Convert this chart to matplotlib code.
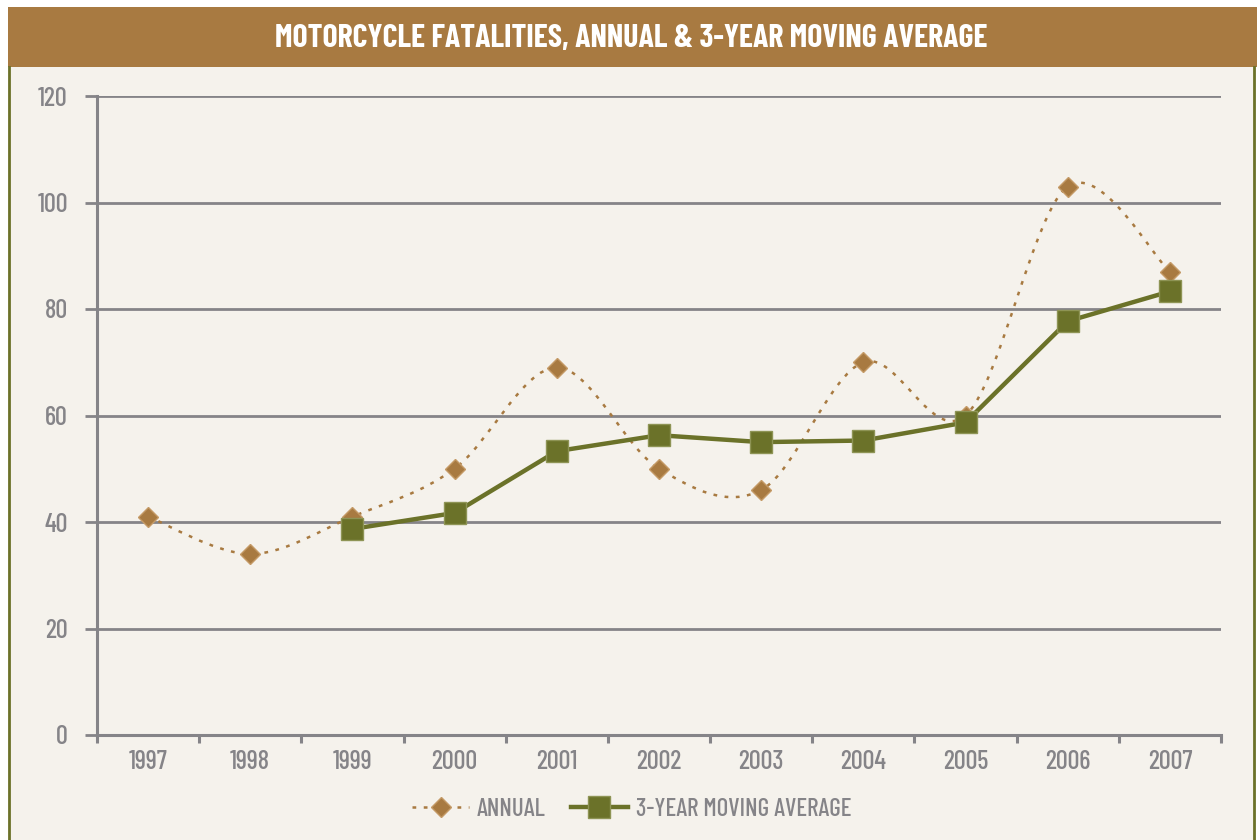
import numpy as np
import matplotlib.pyplot as plt
from matplotlib.path import Path
from matplotlib.patches import PathPatch, Rectangle
from matplotlib.lines import Line2D

years = ['1997', '1998', '1999', '2000', '2001', '2002', '2003', '2004', '2005', '2006', '2007']
annual = [41, 34, 41, 50, 69, 50, 46, 70, 60, 103, 87]
ma_years = ['1999', '2000', '2001', '2002', '2003', '2004', '2005', '2006', '2007']
moving_avg = [38.7, 41.7, 53.3, 56.3, 55.0, 55.3, 58.7, 77.7, 83.3]
yticks = [0, 20, 40, 60, 80, 100, 120]

BROWN = '#A87A41'
GREEN = '#6B7229'
GRAY = '#858488'
PANEL = '#F5F2EC'

plt.rcParams['font.family'] = ['Barlow Condensed', 'Liberation Sans Narrow', 'DejaVu Sans']
plt.rcParams['font.weight'] = 'medium'

W, H = 1257, 840
fig = plt.figure(figsize=(W / 100, H / 100), dpi=100, facecolor='white')

# panel background, title band and side borders
fig.patches.append(Rectangle((8 / W, 0), 1248 / W, 1 - 67 / H, transform=fig.transFigure,
                             facecolor=PANEL, edgecolor='none', zorder=-2))
fig.patches.append(Rectangle((8 / W, 1 - 67 / H), 1 - 8 / W, 60 / H, transform=fig.transFigure,
                             facecolor=BROWN, edgecolor='none', zorder=-2))
fig.lines.append(Line2D([9 / W, 9 / W], [0, 1 - 67 / H], transform=fig.transFigure,
                        color=GREEN, lw=2, zorder=-1))
fig.lines.append(Line2D([1254 / W, 1254 / W], [0, 1 - 67 / H], transform=fig.transFigure,
                        color=GREEN, lw=2, zorder=-1))
fig.text(0.5 + 3 / W, 1 - 38 / H, 'MOTORCYCLE FATALITIES, ANNUAL & 3-YEAR MOVING AVERAGE',
         color='white', fontsize=23, fontweight='bold', ha='center', va='center')

ax = fig.add_axes([97 / W, 1 - 735 / H, (1221 - 97) / W, (735 - 96) / H])
ax.set_facecolor('none')
ax.set_zorder(2)

x = np.arange(len(years))
y = np.array(annual, dtype=float)

# smoothed annual line (bezier through the points)
verts = [(x[0], y[0])]
codes = [Path.MOVETO]
n = len(x)
for i in range(n - 1):
    p0 = np.array([x[max(i - 1, 0)], y[max(i - 1, 0)]])
    p1 = np.array([x[i], y[i]])
    p2 = np.array([x[i + 1], y[i + 1]])
    p3 = np.array([x[min(i + 2, n - 1)], y[min(i + 2, n - 1)]])
    c1 = p1 + (p2 - p0) / 6
    c2 = p2 - (p3 - p1) / 6
    verts += [tuple(c1), tuple(c2), tuple(p2)]
    codes += [Path.CURVE4] * 3
ax.add_patch(PathPatch(Path(verts, codes), facecolor='none', edgecolor=BROWN,
                       lw=1.8, linestyle=(0, (1.5, 3)), zorder=3))
ax.plot(x, y, linestyle='none', marker='D', markersize=10.5, color=BROWN,
        markeredgecolor='#C49A66', markeredgewidth=1, zorder=4)

xm = [years.index(v) for v in ma_years]
ax.plot(xm, moving_avg, color=GREEN, lw=3.2, marker='s', markersize=16.5,
        markeredgecolor='#8E9455', markeredgewidth=1, zorder=5)

ax.set_xlim(-0.5, n - 0.5)
ax.set_ylim(0, 120)
ax.set_yticks(yticks)
ax.set_xticks(x)
ax.set_xticklabels(years)
ax.set_xticks(np.arange(n + 1) - 0.5, minor=True)
ax.yaxis.grid(True, color=GRAY, lw=2)
ax.set_axisbelow(True)
for s in ['top', 'right']:
    ax.spines[s].set_visible(False)
for s in ['left', 'bottom']:
    ax.spines[s].set_color(GRAY)
    ax.spines[s].set_linewidth(2.2)
ax.tick_params(axis='y', direction='out', length=9, width=2, color=GRAY,
               labelcolor=GRAY, labelsize=19, pad=12)
ax.tick_params(axis='x', which='major', length=0, labelcolor=GRAY, labelsize=19, pad=11)
ax.tick_params(axis='x', which='minor', direction='out', length=6, width=2.2, color=GRAY)

handles = [
    Line2D([], [], color=BROWN, lw=1.8, linestyle=(0, (1.5, 3)), marker='D',
           markersize=10.5, markeredgecolor='#C49A66'),
    Line2D([], [], color=GREEN, lw=3.2, marker='s', markersize=16.5,
           markeredgecolor='#8E9455'),
]
leg = fig.legend(handles, ['ANNUAL', '3-YEAR MOVING AVERAGE'], loc='center',
                 bbox_to_anchor=(0.5 + 3 / W, 1 - 809 / H), ncol=2, frameon=False,
                 fontsize=18, handlelength=2.3, columnspacing=1.0, handletextpad=0.3)
for t in leg.get_texts():
    t.set_color(GRAY)

fig.savefig('out.png', dpi=100, facecolor='white')
